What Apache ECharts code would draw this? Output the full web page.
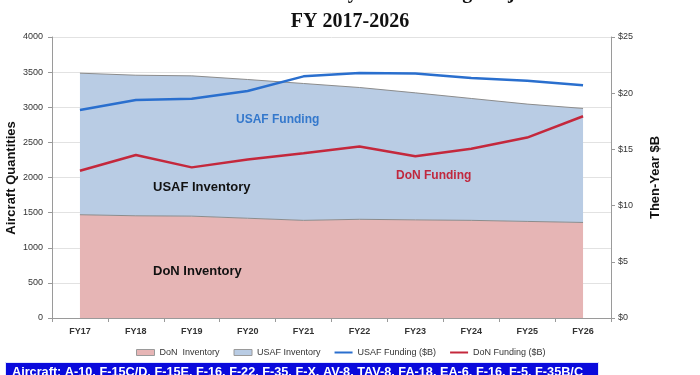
<!DOCTYPE html>
<html>
<head>
<meta charset="utf-8">
<script src="https://cdn.jsdelivr.net/npm/echarts@6/dist/echarts.min.js"></script>
<style>
html,body{margin:0;padding:0;background:#fff;}
#chart{width:700px;height:375px;}
</style>
</head>
<body>
<div id="chart"></div>
<script>
var categories = ['FY17','FY18','FY19','FY20','FY21','FY22','FY23','FY24','FY25','FY26'];
var donInventory = [1470, 1455, 1450, 1420, 1390, 1405, 1397, 1390, 1375, 1360];
var usafInventory = [2015, 2001, 1997, 1975, 1948, 1876, 1808, 1735, 1670, 1623];
var usafFunding = [18.5, 19.4, 19.5, 20.2, 21.5, 21.8, 21.75, 21.35, 21.1, 20.7];
var donFunding = [13.1, 14.5, 13.4, 14.1, 14.65, 15.25, 14.4, 15.05, 16.05, 17.95];
var leftTicks = {min: 0, max: 4000, interval: 500};
var rightTicks = {min: 0, max: 25, interval: 5};

var chart = echarts.init(document.getElementById('chart'), null, {renderer: 'canvas'});
var F = 'Liberation Sans, Arial, sans-serif';
var lineIcon = 'path://M0,0 L18,0 L18,2 L0,2 Z';
var option = {
  backgroundColor: '#fff',
  animation: false,
  textStyle: {fontFamily: F},
  title: [{
    text: 'FY 2017-2026',
    left: 'center', top: 7,
    textStyle: {fontFamily: 'Liberation Serif, Times New Roman, serif', fontWeight: 'bold', fontSize: 20, color: '#111'}
  }, {
    text: 'Tactical Aircraft Inventory and Funding Projections',
    left: 'center', top: -22,
    textStyle: {fontFamily: 'Liberation Serif, Times New Roman, serif', fontWeight: 'bold', fontSize: 20, color: '#111'}
  }],
  legend: {
    left: 131, top: 343,
    itemWidth: 18, itemHeight: 6, itemGap: 14,
    textStyle: {fontSize: 9, color: '#333', fontFamily: F},
    data: [
      {name: 'DoN  Inventory', icon: 'rect', itemStyle: {borderColor: '#9a9a9a', borderWidth: 1}},
      {name: 'USAF Inventory', icon: 'rect', itemStyle: {borderColor: '#9a9a9a', borderWidth: 1}},
      {name: 'USAF Funding ($B)', icon: lineIcon},
      {name: 'DoN Funding ($B)', icon: lineIcon}
    ]
  },
  grid: {left: 52, right: 89, top: 37, bottom: 57, containLabel: false, outerBoundsMode: 'none'},
  xAxis: {
    type: 'category',
    data: categories,
    boundaryGap: true,
    axisLine: {lineStyle: {color: '#9a9a9a'}},
    axisTick: {show: true, alignWithLabel: false, length: 4, lineStyle: {color: '#9a9a9a'}},
    axisLabel: {fontSize: 9, color: '#333', fontWeight: 'bold', margin: 9}
  },
  yAxis: [{
    type: 'value',
    min: leftTicks.min, max: leftTicks.max, interval: leftTicks.interval,
    axisLine: {show: true, lineStyle: {color: '#9a9a9a'}},
    axisTick: {show: true, length: 4, lineStyle: {color: '#9a9a9a'}},
    axisLabel: {fontSize: 9, color: '#333', margin: 9, formatter: function (v) { return String(v); }},
    splitLine: {show: true, lineStyle: {color: '#e2e2e2'}}
  }, {
    type: 'value',
    min: rightTicks.min, max: rightTicks.max, interval: rightTicks.interval,
    name: 'Then-Year $B',
    nameLocation: 'middle', nameGap: 38, nameRotate: 90, nameMoveOverlap: false,
    nameTextStyle: {fontSize: 13, fontWeight: 'bold', color: '#111', fontFamily: F},
    axisLine: {show: true, lineStyle: {color: '#9a9a9a'}},
    axisTick: {show: true, length: 4, lineStyle: {color: '#9a9a9a'}},
    axisLabel: {fontSize: 9, color: '#333', margin: 7, formatter: '${value}'},
    splitLine: {show: false}
  }],
  series: [{
    name: 'DoN  Inventory',
    type: 'line',
    stack: 'inv',
    data: donInventory,
    symbol: 'none',
    itemStyle: {color: '#e6b5b5'},
    lineStyle: {color: '#8c8c8c', width: 1},
    areaStyle: {color: '#e6b5b5', opacity: 1},
    z: 1
  }, {
    name: 'USAF Inventory',
    type: 'line',
    stack: 'inv',
    data: usafInventory,
    symbol: 'none',
    itemStyle: {color: '#b9cce4'},
    lineStyle: {color: '#8c8c8c', width: 1},
    areaStyle: {color: '#b9cce4', opacity: 1},
    z: 1
  }, {
    name: 'USAF Funding ($B)',
    type: 'line',
    yAxisIndex: 1,
    data: usafFunding,
    symbol: 'none',
    itemStyle: {color: '#2a6fce'},
    lineStyle: {color: '#2a6fce', width: 2.5},
    z: 3
  }, {
    name: 'DoN Funding ($B)',
    type: 'line',
    yAxisIndex: 1,
    data: donFunding,
    symbol: 'none',
    itemStyle: {color: '#c4283c'},
    lineStyle: {color: '#c4283c', width: 2.5},
    z: 3
  }],
  graphic: [
    {type: 'text', x: 11, y: 178, rotation: Math.PI / 2, z: 10, style: {text: 'Aircraft Quantities', fill: '#111', font: 'bold 13px ' + F, align: 'center', verticalAlign: 'middle'}},
    {type: 'text', left: 236, top: 114, z: 10, style: {text: 'USAF Funding', fill: '#3478cc', font: 'bold 12px ' + F}},
    {type: 'text', left: 153, top: 181, z: 10, style: {text: 'USAF Inventory', fill: '#111', font: 'bold 13px ' + F}},
    {type: 'text', left: 396, top: 170, z: 10, style: {text: 'DoN Funding', fill: '#c0283e', font: 'bold 12px ' + F}},
    {type: 'text', left: 153, top: 265, z: 10, style: {text: 'DoN Inventory', fill: '#111', font: 'bold 13px ' + F}},
    {type: 'rect', left: 5, top: 362, z: 10, shape: {width: 593, height: 20}, style: {fill: '#0a0adc', stroke: '#dfe6ff', lineWidth: 1}},
    {type: 'text', left: 12, top: 366, z: 11, style: {text: 'Aircraft: A-10, F-15C/D, F-15E, F-16, F-22, F-35, F-X, AV-8, TAV-8, FA-18, EA-6, F-16, F-5, F-35B/C', fill: '#fff', font: 'bold 12.7px ' + F}}
  ]
};
chart.setOption(option);
</script>
</body>
</html>
